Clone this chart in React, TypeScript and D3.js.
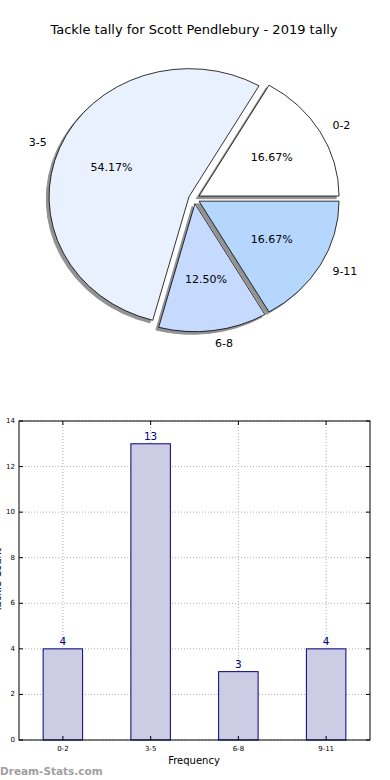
import React from "react";
import * as d3 from "d3";

// tackle ranges and how many games fell in each
const categories = ["0-2", "3-5", "6-8", "9-11"];
const counts = [4, 13, 3, 4];
const pctLabels = ["16.67%", "54.17%", "12.50%", "16.67%"];
const sliceColors = ["#ffffff", "#eaf1fe", "#c6d9fe", "#b5d7fe"];
const yTicks = [0, 2, 4, 6, 8, 10, 12, 14];

const W = 390;
const H = 780;

function PieChart() {
	// matplotlib pie without equal aspect -> ellipse
	const cx = 194.2;
	const cy = 198.6;
	const rx = 140;
	const ry = 128;
	const explode = 0.04;

	// counterclockwise from 3 o'clock, like matplotlib
	const pie = d3
		.pie<number>()
		.sort(null)
		.startAngle(Math.PI / 2)
		.endAngle(Math.PI / 2 - 2 * Math.PI);
	const arcs = pie(counts);
	const arc = d3.arc<d3.PieArcDatum<number>>().innerRadius(0).outerRadius(1);

	const slices = arcs.map((a, i) => {
		const mid = (a.startAngle + a.endAngle) / 2;
		const ox = cx + explode * rx * Math.sin(mid);
		const oy = cy - explode * ry * Math.cos(mid);
		return {
			d: arc(a) as string,
			ox,
			oy,
			lx: ox + 1.1 * rx * Math.sin(mid),
			ly: oy - 1.1 * ry * Math.cos(mid),
			px: ox + 0.6 * rx * Math.sin(mid),
			py: oy - 0.6 * ry * Math.cos(mid),
			anchor: Math.sin(mid) > 0 ? "start" : "end",
			color: sliceColors[i],
			label: categories[i],
			pct: pctLabels[i]
		};
	});

	return (
		<g fontFamily="DejaVu Sans, sans-serif">
			<text x={194} y={34} textAnchor="middle" fontSize={13}>
				Tackle tally for Scott Pendlebury - 2019 tally
			</text>
			{/* shadows first */}
			{slices.map((s, i) => (
				<path
					key={"sh" + i}
					d={s.d}
					transform={`translate(${s.ox - 2.8},${s.oy + 2.6}) scale(${rx},${ry})`}
					fill="#929292"
					stroke="#929292"
					strokeWidth={1}
					vectorEffect="non-scaling-stroke"
				/>
			))}
			{slices.map((s, i) => (
				<path
					key={"sl" + i}
					d={s.d}
					transform={`translate(${s.ox},${s.oy}) scale(${rx},${ry})`}
					fill={s.color}
					stroke="#000"
					strokeWidth={0.8}
					vectorEffect="non-scaling-stroke"
				/>
			))}
			{slices.map((s, i) => (
				<g key={"lb" + i} fontSize={11}>
					<text x={s.lx} y={s.ly} textAnchor={s.anchor} dominantBaseline="central">
						{s.label}
					</text>
					<text x={s.px} y={s.py} textAnchor="middle" dominantBaseline="central">
						{s.pct}
					</text>
				</g>
			))}
		</g>
	);
}

function BarChart() {
	const left = 19;
	const right = 370;
	const top = 421;
	const bottom = 740;

	const x = d3
		.scaleBand<string>()
		.domain(categories)
		.range([left, right])
		.paddingInner(0.55)
		.paddingOuter(0.275);
	const y = d3.scaleLinear().domain([0, 14]).range([bottom, top]);
	const half = x.bandwidth() / 2;

	return (
		<g fontFamily="DejaVu Sans, sans-serif">
			{/* grid */}
			{yTicks.map((t) => (
				<line
					key={"gy" + t}
					x1={left}
					x2={right}
					y1={y(t)}
					y2={y(t)}
					stroke="#b0b0b0"
					strokeDasharray="1,2"
				/>
			))}
			{categories.map((c) => (
				<line
					key={"gx" + c}
					x1={(x(c) as number) + half}
					x2={(x(c) as number) + half}
					y1={top}
					y2={bottom}
					stroke="#b0b0b0"
					strokeDasharray="1,2"
				/>
			))}
			{counts.map((v, i) => (
				<rect
					key={"b" + i}
					x={x(categories[i])}
					y={y(v)}
					width={x.bandwidth()}
					height={bottom - y(v)}
					fill="#ccccE4"
					stroke="#000080"
					strokeWidth={1}
				/>
			))}
			{counts.map((v, i) => (
				<text
					key={"v" + i}
					x={(x(categories[i]) as number) + half}
					y={y(v) - 4}
					textAnchor="middle"
					fontSize={10.5}
					fill="#000080"
				>
					{v}
				</text>
			))}
			<rect x={left} y={top} width={right - left} height={bottom - top} fill="none" stroke="#000" strokeWidth={1} />
			{/* y ticks */}
			{yTicks.map((t) => (
				<g key={"ty" + t}>
					<line x1={left} x2={left + 4} y1={y(t)} y2={y(t)} stroke="#000" />
					<line x1={right - 4} x2={right} y1={y(t)} y2={y(t)} stroke="#000" />
					<text x={left - 4} y={y(t)} textAnchor="end" dominantBaseline="central" fontSize={7}>
						{t}
					</text>
				</g>
			))}
			{categories.map((c) => {
				const cxp = (x(c) as number) + half;
				return (
					<g key={"tx" + c}>
						<line x1={cxp} x2={cxp} y1={bottom} y2={bottom - 4} stroke="#000" />
						<line x1={cxp} x2={cxp} y1={top} y2={top + 4} stroke="#000" />
						<text x={cxp} y={bottom + 11} textAnchor="middle" fontSize={7}>
							{c}
						</text>
					</g>
				);
			})}
			<text x={194} y={764} textAnchor="middle" fontSize={10}>
				Frequency
			</text>
			<text transform="translate(1,580) rotate(-90)" textAnchor="middle" fontSize={10}>
				Tackle Count
			</text>
			<text x={0} y={775} fontSize={10.5} fontWeight="bold" fill="#a0a0a0">
				Dream-Stats.com
			</text>
		</g>
	);
}

export default function App() {
	return (
		<svg
			width={W}
			height={H}
			style={{ position: "absolute", left: 0, top: 0, display: "block", background: "#fff" }}
		>
			<PieChart />
			<BarChart />
		</svg>
	);
}
